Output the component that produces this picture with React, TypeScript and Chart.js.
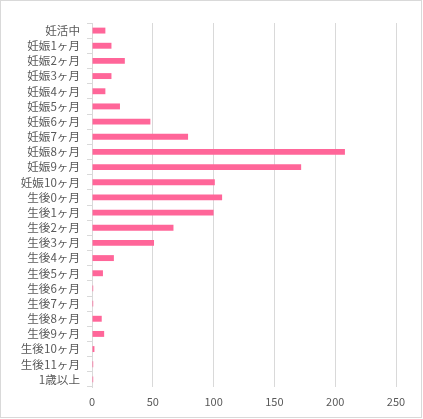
import React, { useEffect, useRef } from "react";
import { Chart, registerables } from "chart.js";

Chart.register(...registerables);

const categories = [
  "妊活中",
  "妊娠1ヶ月",
  "妊娠2ヶ月",
  "妊娠3ヶ月",
  "妊娠4ヶ月",
  "妊娠5ヶ月",
  "妊娠6ヶ月",
  "妊娠7ヶ月",
  "妊娠8ヶ月",
  "妊娠9ヶ月",
  "妊娠10ヶ月",
  "生後0ヶ月",
  "生後1ヶ月",
  "生後2ヶ月",
  "生後3ヶ月",
  "生後4ヶ月",
  "生後5ヶ月",
  "生後6ヶ月",
  "生後7ヶ月",
  "生後8ヶ月",
  "生後9ヶ月",
  "生後10ヶ月",
  "生後11ヶ月",
  "1歳以上",
];

const values = [
  11, 16, 27, 16, 11, 23, 48, 79, 208, 172, 101, 107, 100, 67, 51, 18, 9, 1, 1, 8, 10, 2, 1, 1,
];

const xMin = 0;
const xMax = 250;
const xStep = 50;

export default function App() {
  const ref = useRef<HTMLCanvasElement | null>(null);

  useEffect(() => {
    if (!ref.current) return;
    const font = { family: "'Noto Sans CJK JP', 'Noto Sans', sans-serif", size: 11.6 };
    const chart = new Chart(ref.current, {
      type: "bar",
      data: {
        labels: categories,
        datasets: [
          {
            data: values,
            backgroundColor: "#ff6699",
            borderWidth: 0,
            categoryPercentage: 1,
            barPercentage: 0.39,
          },
        ],
      },
      options: {
        indexAxis: "y",
        animation: false,
        responsive: false,
        maintainAspectRatio: false,
        layout: { padding: { left: 0, top: 23, right: 27, bottom: 10 } },
        plugins: {
          legend: { display: false },
          tooltip: { enabled: false },
        },
        scales: {
          x: {
            min: xMin,
            max: xMax,
            ticks: { stepSize: xStep, color: "#595959", font: { ...font, size: 11 }, padding: 8 },
            grid: { color: "#d9d9d9", drawTicks: false },
            border: { display: false },
            afterFit: (s: any) => {
              s.height = 22;
            },
          },
          y: {
            ticks: { color: "#595959", font, padding: 7, autoSkip: false },
            grid: {
              color: "#d9d9d9",
              drawOnChartArea: false,
              drawTicks: true,
              tickLength: 5,
              offset: true,
            },
            border: { display: true, color: "#d9d9d9" },
            afterFit: (s: any) => {
              s.width = 92;
            },
          },
        },
      },
    });
    return () => chart.destroy();
  }, []);

  return (
    <div style={{ position: "absolute", left: 0, top: 0, width: 423, height: 419, background: "#fff" }}>
      <div
        style={{
          position: "absolute",
          left: 0,
          top: 0,
          width: 422,
          height: 418,
          boxSizing: "border-box",
          border: "1px solid #d9d9d9",
        }}
      />
      <canvas ref={ref} width={423} height={419} style={{ position: "absolute", left: 0, top: 0, width: 423, height: 419 }} />
    </div>
  );
}
